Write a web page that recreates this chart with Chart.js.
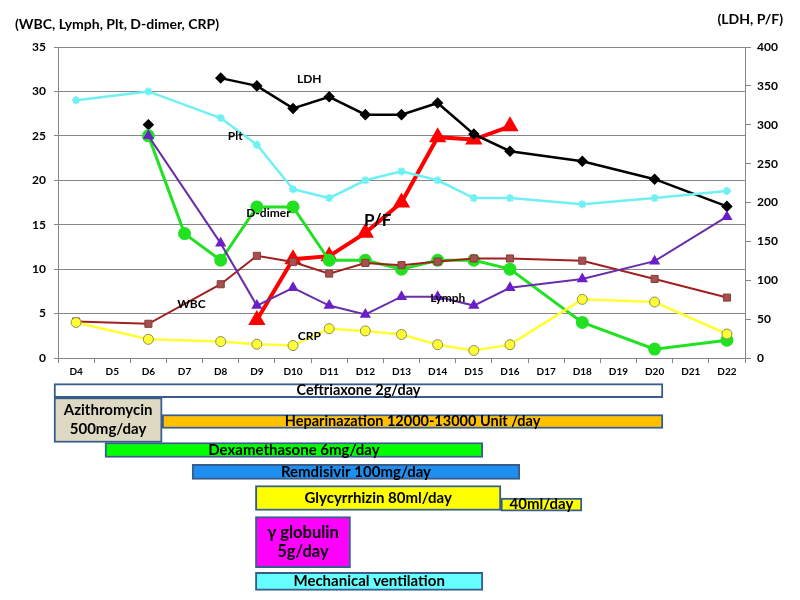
<!DOCTYPE html>
<html>
<head>
<meta charset="utf-8">
<script src="https://cdn.jsdelivr.net/npm/chart.js@4.4.0/dist/chart.umd.min.js"></script>
<style>
  body { margin: 0; background: #fff; }
  canvas { position: absolute; left: 0; }
  #labChart { top: 0; }
  #treatChart { top: 375px; }
</style>
</head>
<body>
<canvas id="labChart" width="800" height="375"></canvas>
<canvas id="treatChart" width="800" height="225"></canvas>
<script>
// hospital days
const days = ['D4', 'D5', 'D6', 'D7', 'D8', 'D9', 'D10', 'D11', 'D12', 'D13', 'D14', 'D15', 'D16', 'D17', 'D18', 'D19', 'D20', 'D21', 'D22'];

// left axis series
const wbc    = [4.1, null, 3.85, null, 8.3, 11.5, 10.8, 9.5, 10.7, 10.45, 10.85, 11.2, 11.2, null, 10.95, null, 8.9, null, 6.8];
const lymph  = [null, null, 25, null, 12.9, 5.9, 7.9, 5.9, 4.9, 6.9, 6.9, 5.9, 7.9, null, 8.9, null, 10.9, null, 15.9];
const plt    = [29, null, 30, null, 27, 24, 19, 18, 20, 21, 20, 18, 18, null, 17.3, null, 18, null, 18.8];
const ddimer = [null, null, 25, 14, 11, 17, 17, 11, 11, 10, 11, 11, 10, null, 4, null, 1, null, 2];
const crp    = [4, null, 2.1, null, 1.85, 1.55, 1.4, 3.3, 3.05, 2.65, 1.5, 0.85, 1.5, null, 6.6, null, 6.3, null, 2.7];

// right axis series
const ldh = [null, null, 300, null, 360, 350, 321, 336, 313, 313, 328, 288, 266, null, 253, null, 230, null, 195];
const pf  = [null, null, null, null, null, 49, 127, 131, 161, 200, 284, 281, 298, null, null, null, null, null, null];

const leftTicks = [0, 35, 5];
const rightTicks = [0, 400, 50];

// treatments (start / end in hospital day)
const treatNames = ['Ceftriaxone 2g/day', 'Azithromycin\n500mg/day', 'Heparinazation 12000-13000 Unit /day',
  'Dexamethasone 6mg/day', 'Remdisivir 100mg/day', 'Glycyrrhizin 80ml/day', '40ml/day', 'γ globulin\n5g/day', 'Mechanical ventilation'];
const treatStart = [3.39, 3.39, 6.38, 4.8, 7.21, 8.96, 15.75, 8.96, 8.96];
const treatEnd   = [20.23, 6.38, 20.23, 15.25, 16.27, 15.75, 17.99, 11.59, 15.25];

// layout of the treatment rows
const treatLane  = [0.02, 1.0, 1.05, 2.0, 2.73, 3.6, 3.82, 5.07, 6.38];
const treatThick = [14, 45, 14, 15, 15, 25, 13, 51, 18];
const treatFill  = ['#ffffff', '#ddd9c3', '#ffc000', '#00ff00', '#1e8ff0', '#ffff00', '#ffff00', '#ff00ff', '#66ffff'];
const treatFont  = [14.5, 15, 14.5, 15, 15, 15, 15, 16.5, 15];

Chart.defaults.font.family = 'Lato, "Liberation Sans", sans-serif';
Chart.defaults.font.weight = 'bold';
Chart.defaults.color = '#000';

const FONT = 'Lato, "Liberation Sans", sans-serif';
const axisGray = '#868686';

// series name notes: [category index, left axis value]
const notes = [
  { text: 'LDH', at: [6.45, 31.4], size: 12 },
  { text: 'Plt', at: [4.4, 25.0], size: 12 },
  { text: 'D-dimer', at: [5.32, 16.3], size: 12 },
  { text: 'P/F', at: [8.34, 15.5], size: 17 },
  { text: 'WBC', at: [3.19, 6.1], size: 12 },
  { text: 'Lymph', at: [10.28, 6.75], size: 12 },
  { text: 'CRP', at: [6.45, 2.5], size: 12 }
];

const notesPlugin = {
  id: 'notes',
  afterDraw(chart) {
    const ctx = chart.ctx;
    const xs = chart.scales.x, ys = chart.scales.y;
    ctx.save();
    ctx.fillStyle = '#000';
    ctx.textAlign = 'center';
    ctx.textBaseline = 'middle';
    notes.forEach(n => {
      ctx.font = 'bold ' + n.size + 'px ' + FONT;
      ctx.fillText(n.text, xs.getPixelForValue(n.at[0]), ys.getPixelForValue(n.at[1]));
    });
    // axis captions
    ctx.font = 'bold 14px ' + FONT;
    ctx.textAlign = 'left';
    ctx.fillText('(WBC, Lymph, Plt, D-dimer, CRP)', 15, 24);
    ctx.textAlign = 'right';
    ctx.fillText('(LDH, P/F)', 783, 19);
    ctx.restore();
  }
};

function series(label, data, axis, color, opts) {
  return Object.assign({
    label: label,
    data: data,
    yAxisID: axis,
    borderColor: color,
    backgroundColor: color,
    pointBorderColor: color,
    pointBackgroundColor: color,
    spanGaps: true,
    tension: 0
  }, opts);
}

// LDH on D6 stands alone, the line starts at D8
const ldhLineStart = days.indexOf('D8');

const labChart = new Chart(document.getElementById('labChart'), {
  type: 'line',
  data: {
    labels: days,
    datasets: [
      series('CRP', crp, 'y', '#ffff33', { borderWidth: 2.5, pointRadius: 5, pointBorderColor: '#8c8c5a', pointBorderWidth: 1 }),
      series('Lymph', lymph, 'y', '#6a2fa8', { borderWidth: 2, pointStyle: 'triangle', pointRadius: 4.5, pointBackgroundColor: '#6a1fc8', pointBorderColor: '#6a1fc8' }),
      series('WBC', wbc, 'y', '#a02020', { borderWidth: 2, pointStyle: 'rect', pointRadius: 5, pointBackgroundColor: '#a4514f', pointBorderColor: '#8a3a3a', pointBorderWidth: 1 }),
      series('D-dimer', ddimer, 'y', '#22e022', { borderWidth: 3, pointRadius: 5 }),
      series('Plt', plt, 'y', '#6ff0f2', { borderWidth: 2.5, pointStyle: 'star', pointRadius: 4, pointBorderWidth: 2 }),
      series('LDH', ldh, 'y1', '#000000', {
        borderWidth: 2.5, pointStyle: 'rectRot', pointRadius: 4,
        segment: { borderColor: c => c.p1DataIndex === ldhLineStart ? 'rgba(0,0,0,0)' : '#000000' }
      }),
      series('P/F', pf, 'y1', '#ff0000', { borderWidth: 4, pointStyle: 'triangle', pointRadius: 6 })
    ]
  },
  options: {
    responsive: false,
    animation: false,
    layout: { padding: { top: 47, left: 0, right: 0, bottom: 0 } },
    plugins: { legend: { display: false }, tooltip: { enabled: false } },
    scales: {
      x: {
        offset: true,
        grid: { offset: true, drawOnChartArea: false, tickLength: 5, color: axisGray },
        border: { color: axisGray },
        ticks: { font: { size: 10, weight: 'bold' }, color: '#000', padding: 3, maxRotation: 0, autoSkip: false },
        afterFit: s => { s.height = 17; }
      },
      y: {
        position: 'left',
        min: leftTicks[0], max: leftTicks[1],
        ticks: { stepSize: leftTicks[2], font: { size: 12, weight: 'bold' }, color: '#000', padding: 8 },
        grid: { color: axisGray, tickLength: 4 },
        border: { color: axisGray },
        afterFit: s => { s.width = 58; }
      },
      y1: {
        position: 'right',
        min: rightTicks[0], max: rightTicks[1],
        ticks: { stepSize: rightTicks[2], font: { size: 12, weight: 'bold' }, color: '#000', padding: 6 },
        grid: { drawOnChartArea: false, tickLength: 6, color: axisGray },
        border: { color: axisGray },
        afterFit: s => { s.width = 55; }
      }
    }
  },
  plugins: [notesPlugin]
});

const barTextPlugin = {
  id: 'barText',
  afterDatasetsDraw(chart) {
    const ctx = chart.ctx;
    ctx.save();
    ctx.fillStyle = '#000';
    ctx.textAlign = 'center';
    ctx.textBaseline = 'middle';
    chart.data.datasets.forEach((ds, i) => {
      const el = chart.getDatasetMeta(i).data[0];
      const cx = (el.x + el.base) / 2;
      const lines = ds.label.split('\n');
      const size = treatFont[i];
      ctx.font = 'bold ' + size + 'px ' + FONT;
      const lh = 19;
      lines.forEach((t, k) => {
        ctx.fillText(t, cx, el.y + (k - (lines.length - 1) / 2) * lh);
      });
    });
    ctx.restore();
  }
};

const area = labChart.chartArea;

new Chart(document.getElementById('treatChart'), {
  type: 'bar',
  data: {
    datasets: treatNames.map((name, i) => ({
      label: name,
      data: [{ x: [treatStart[i], treatEnd[i]], y: treatLane[i] }],
      backgroundColor: treatFill[i],
      borderColor: '#385d8a',
      borderWidth: 2,
      borderSkipped: false,
      barThickness: treatThick[i],
      grouped: false,
      clip: false
    }))
  },
  options: {
    indexAxis: 'y',
    responsive: false,
    animation: false,
    layout: { padding: { top: 0, bottom: 0, left: area.left, right: 800 - area.right } },
    plugins: { legend: { display: false }, tooltip: { enabled: false } },
    scales: {
      x: { type: 'linear', min: 3.5, max: 22.5, offset: false, display: false },
      y: { type: 'linear', min: -0.5, max: 7, reverse: true, offset: false, display: false }
    }
  },
  plugins: [barTextPlugin]
});
</script>
</body>
</html>
